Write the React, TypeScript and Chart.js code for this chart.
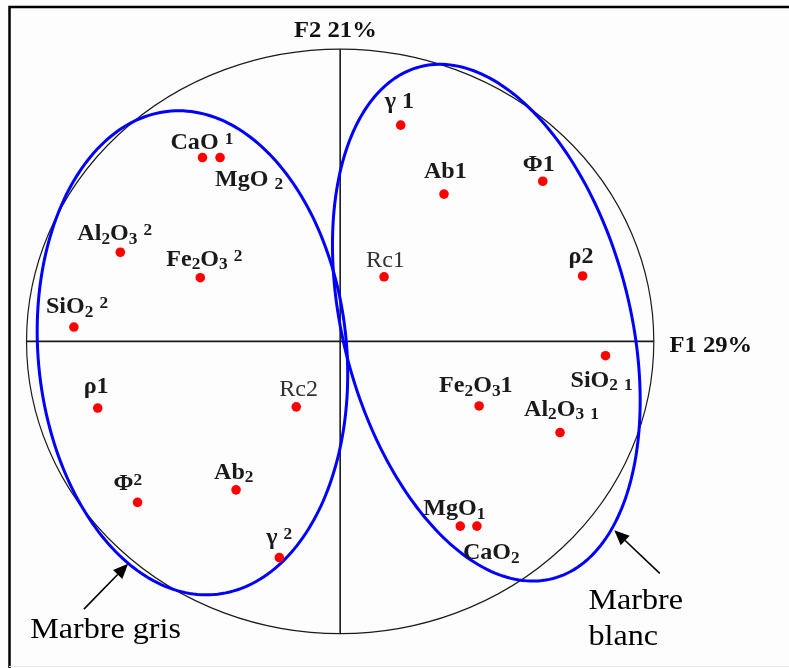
import React, { useEffect, useRef } from "react";
import { Chart, registerables } from "chart.js";

Chart.register(...registerables);

// Variable labels ("_x" = subscript character, "^x" = raised small character)
const variables = [
  "CaO ^1", "MgO _2", "Al_2O_3 ^2", "Fe_2O_3 ^2", "SiO_2 ^2",
  "γ 1", "Ab1", "Φ1", "ρ2", "Rc1",
  "ρ1", "Rc2", "Φ^2", "Ab_2", "γ ^2",
  "SiO_2 _1", "Fe_2O_31", "Al_2O_3 _1", "MgO_1", "CaO_2",
];

// Coordinates on the first two factorial axes
const f1Coords = [
  -0.439, -0.383, -0.701, -0.446, -0.849,
  0.193, 0.331, 0.646, 0.773, 0.140,
  -0.773, -0.140, -0.646, -0.332, -0.194,
  0.846, 0.443, 0.701, 0.383, 0.436,
];
const f2Coords = [
  0.629, 0.629, 0.305, 0.218, 0.049,
  0.740, 0.504, 0.548, 0.224, 0.221,
  -0.228, -0.224, -0.551, -0.508, -0.740,
  -0.049, -0.221, -0.312, -0.632, -0.632,
];

// Label anchor offsets in pixels (text start, baseline) from each point
const labelOffsets: [number, number][] = [
  [-32, -9], [-5, 28], [-43, -12], [-34, -12], [-28, -14],
  [-16, -17], [-20, -16], [-20, -10], [-14, -13], [-18, -10],
  [-14, -15], [-17, -11], [-24, -12], [-22, -11], [-13, -14],
  [-35, 31], [-40, -14], [-36, -17], [-37, -11], [-14, 33],
];
const lightLabels = ["Rc1", "Rc2"];

const axisTitleF1 = "F1 29%";
const axisTitleF2 = "F2 21%";

// Groups: centre (F1, F2), semi-axes, tilt in degrees
const groupNames = ["Marbre gris", "Marbre blanc"];
const groupCentres: [number, number][] = [[-0.471, -0.039], [0.466, 0.064]];
const groupAxes: [number, number][] = [[0.492, 0.830], [0.459, 0.901]];
const groupTilt = [4.7, 12.9];

// Arrow tail / tip, and caption lines
const arrowTails: [number, number][] = [[-0.817, -0.916], [1.019, -0.794]];
const arrowTips: [number, number][] = [[-0.676, -0.761], [0.874, -0.646]];
const captionLines: { text: string; at: [number, number] }[][] = [
  [{ text: "Marbre gris", at: [-0.988, -1.014] }],
  [
    { text: "Marbre", at: [0.792, -0.916] },
    { text: "blanc", at: [0.792, -1.04] },
  ],
];

const SERIF = "'Liberation Serif', 'Times New Roman', 'DejaVu Serif', serif";
const STRETCH = 1.07;

function drawRich(
  ctx: CanvasRenderingContext2D,
  markup: string,
  x: number,
  y: number,
  size: number,
  weight: string
) {
  ctx.save();
  ctx.translate(x, y);
  ctx.scale(STRETCH, 1);
  ctx.textBaseline = "alphabetic";
  ctx.textAlign = "left";
  let cx = 0;
  for (let i = 0; i < markup.length; i++) {
    let ch = markup[i];
    let s = size;
    let dy = 0;
    if (ch === "_" && i + 1 < markup.length) {
      ch = markup[++i];
      s = size * 0.72;
      dy = size * 0.16;
    } else if (ch === "^" && i + 1 < markup.length) {
      ch = markup[++i];
      s = size * 0.72;
      dy = -size * 0.22;
    }
    ctx.font = `${weight} ${s}px ${SERIF}`;
    ctx.fillText(ch, cx, dy);
    cx += ctx.measureText(ch).width;
  }
  ctx.restore();
}

const decorPlugin = {
  id: "circleDecor",
  beforeDatasetsDraw(chart: any) {
    const { ctx, scales } = chart;
    const xs = scales.x;
    const ys = scales.y;
    const px = (v: number) => xs.getPixelForValue(v);
    const py = (v: number) => ys.getPixelForValue(v);
    ctx.save();
    // page frame
    ctx.fillStyle = "#fdfdfd";
    ctx.fillRect(0, 0, chart.width, chart.height);
    ctx.strokeStyle = "#000";
    ctx.lineWidth = 2.5;
    ctx.beginPath();
    ctx.moveTo(9.5, chart.height);
    ctx.lineTo(9.5, 7);
    ctx.lineTo(chart.width, 7);
    ctx.stroke();
    ctx.strokeStyle = "#e6e6e6";
    ctx.lineWidth = 1;
    ctx.beginPath();
    ctx.moveTo(9, chart.height - 1.5);
    ctx.lineTo(chart.width, chart.height - 1.5);
    ctx.stroke();

    // correlation circle
    const ox = px(0);
    const oy = py(0);
    ctx.strokeStyle = "#1a1a1a";
    ctx.lineWidth = 1.2;
    ctx.beginPath();
    ctx.ellipse(ox, oy, px(1) - ox, oy - py(1), 0, 0, Math.PI * 2);
    ctx.stroke();

    // axes
    ctx.lineWidth = 1.6;
    ctx.beginPath();
    ctx.moveTo(px(-1), oy);
    ctx.lineTo(px(1), oy);
    ctx.moveTo(ox, py(1));
    ctx.lineTo(ox, py(-1));
    ctx.stroke();

    // axis titles
    ctx.fillStyle = "#111";
    drawRich(ctx, axisTitleF2, px(-0.147), py(1.04), 23, "bold");
    drawRich(ctx, axisTitleF1, px(1.05), py(-0.035), 23, "bold");

    // group ellipses
    ctx.strokeStyle = "#0000ff";
    ctx.lineWidth = 3;
    for (let g = 0; g < groupNames.length; g++) {
      const [cx, cy] = groupCentres[g];
      const [a, b] = groupAxes[g];
      const phi = (groupTilt[g] * Math.PI) / 180;
      ctx.beginPath();
      for (let k = 0; k <= 240; k++) {
        const t = (k / 240) * Math.PI * 2;
        const u = a * Math.cos(t);
        const v = b * Math.sin(t);
        const x = cx + u * Math.cos(phi) - v * Math.sin(phi);
        const y = cy + u * Math.sin(phi) + v * Math.cos(phi);
        if (k === 0) ctx.moveTo(px(x), py(y));
        else ctx.lineTo(px(x), py(y));
      }
      ctx.closePath();
      ctx.stroke();
    }
    ctx.restore();
  },
  afterDatasetsDraw(chart: any) {
    const { ctx, scales } = chart;
    const px = (v: number) => scales.x.getPixelForValue(v);
    const py = (v: number) => scales.y.getPixelForValue(v);
    ctx.save();
    // variable labels
    for (let i = 0; i < variables.length; i++) {
      const x = px(f1Coords[i]) + labelOffsets[i][0];
      const y = py(f2Coords[i]) + labelOffsets[i][1];
      const plain = variables[i].replace(/[_^ ]/g, "");
      const light = lightLabels.includes(plain);
      ctx.fillStyle = light ? "#333" : "#1a1a1a";
      drawRich(ctx, variables[i], x, y, 22.5, light ? "normal" : "bold");
    }
    // arrows
    ctx.strokeStyle = "#000";
    ctx.fillStyle = "#000";
    ctx.lineWidth = 1.6;
    for (let g = 0; g < arrowTails.length; g++) {
      const x0 = px(arrowTails[g][0]);
      const y0 = py(arrowTails[g][1]);
      const x1 = px(arrowTips[g][0]);
      const y1 = py(arrowTips[g][1]);
      const ang = Math.atan2(y1 - y0, x1 - x0);
      const len = 15;
      const half = 6.5;
      const bx = x1 - len * Math.cos(ang);
      const by = y1 - len * Math.sin(ang);
      ctx.beginPath();
      ctx.moveTo(x0, y0);
      ctx.lineTo(bx, by);
      ctx.stroke();
      ctx.beginPath();
      ctx.moveTo(x1, y1);
      ctx.lineTo(bx + half * Math.sin(ang), by - half * Math.cos(ang));
      ctx.lineTo(bx - half * Math.sin(ang), by + half * Math.cos(ang));
      ctx.closePath();
      ctx.fill();
    }
    // captions
    ctx.fillStyle = "#000";
    for (const lines of captionLines) {
      for (const line of lines) {
        drawRich(ctx, line.text, px(line.at[0]), py(line.at[1]), 30, "normal");
      }
    }
    ctx.restore();
  },
};

export default function App() {
  const canvasRef = useRef<HTMLCanvasElement | null>(null);

  useEffect(() => {
    const canvas = canvasRef.current;
    if (!canvas) return;
    const chart = new Chart(canvas, {
      type: "scatter",
      data: {
        datasets: [
          {
            data: f1Coords.map((x, i) => ({ x, y: f2Coords[i] })),
            pointRadius: 4.8,
            pointHoverRadius: 4.8,
            pointBackgroundColor: "#ff0000",
            pointBorderWidth: 0,
            borderWidth: 0,
          },
        ],
      },
      options: {
        responsive: false,
        animation: false,
        events: [],
        layout: { padding: 0 },
        plugins: {
          legend: { display: false },
          tooltip: { enabled: false },
        },
        scales: {
          x: { type: "linear", min: -339.5 / 317.5, max: (789 - 339.5) / 317.5, display: false },
          y: { type: "linear", min: -(668 - 341.5) / 296.5, max: 341.5 / 296.5, display: false },
        },
      },
      plugins: [decorPlugin],
    });
    return () => chart.destroy();
  }, []);

  return (
    <div style={{ position: "absolute", left: 0, top: 0, width: 789, height: 668 }}>
      <canvas ref={canvasRef} width={789} height={668} />
    </div>
  );
}
